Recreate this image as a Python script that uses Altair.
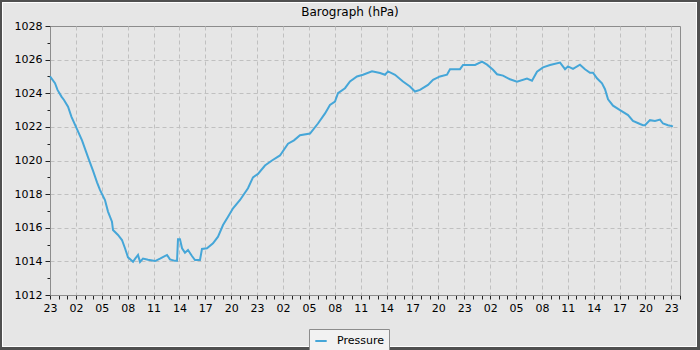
import altair as alt
import pandas as pd

# hours after 23:00 on the first day
hours = [0.0, 0.58, 0.87, 1.33, 1.62, 2.09, 2.49, 3.01, 3.71, 4.40, 4.98, 5.45, 5.79, 6.37,
         6.72, 7.18, 7.30, 7.88, 8.34, 8.69, 9.04, 9.62, 9.85, 10.20, 10.43, 10.78, 11.36,
         12.17, 12.75, 13.56, 13.90, 14.48, 14.72, 14.83, 15.06, 15.30, 15.64, 15.99, 16.45,
         16.80, 17.38, 17.61, 18.19, 18.89, 19.47, 20.05, 20.63, 21.21, 22.02, 22.94, 23.52,
         24.10, 24.91, 25.72, 26.65, 27.58, 28.27, 28.97, 30.13, 31.05, 31.87, 32.44, 33.02,
         33.37, 34.18, 34.76, 35.57, 36.27, 37.31, 38.24, 38.82, 39.17, 39.98, 40.90, 41.71,
         42.29, 42.87, 43.80, 44.38, 45.19, 46.00, 46.35, 47.51, 47.86, 49.25, 50.06, 50.64,
         51.33, 51.80, 52.49, 53.30, 54.11, 55.27, 55.85, 56.43, 57.13, 57.94, 59.10, 59.68,
         60.02, 60.60, 61.41, 61.99, 62.57, 62.92, 63.38, 63.96, 64.31, 64.66, 65.24, 66.05,
         66.98, 67.55, 68.37, 68.71, 68.94, 69.52, 70.10, 70.68, 71.03, 71.61, 72.19]

pressure = [1025.0, 1024.6, 1024.2, 1023.8, 1023.6, 1023.2, 1022.6, 1022.0, 1021.2, 1020.2,
            1019.4, 1018.7, 1018.25, 1017.65, 1016.96, 1016.36, 1015.87, 1015.57, 1015.27,
            1014.78, 1014.24, 1013.98, 1014.15, 1014.38, 1013.97, 1014.17, 1014.1, 1014.02,
            1014.16, 1014.38, 1014.12, 1014.03, 1014.03, 1015.31, 1015.31, 1014.78, 1014.52,
            1014.68, 1014.32, 1014.08, 1014.08, 1014.74, 1014.78, 1015.07, 1015.47, 1016.16,
            1016.66, 1017.16, 1017.65, 1018.35, 1019.0, 1019.2, 1019.7, 1020.0, 1020.3, 1021.0,
            1021.2, 1021.5, 1021.6, 1022.2, 1022.8, 1023.3, 1023.5, 1024.0, 1024.3, 1024.7,
            1025.0, 1025.1, 1025.3, 1025.2, 1025.1, 1025.3, 1025.1, 1024.7, 1024.4, 1024.1,
            1024.2, 1024.5, 1024.8, 1025.0, 1025.1, 1025.43, 1025.43, 1025.68, 1025.68,
            1025.88, 1025.7, 1025.4, 1025.13, 1025.05, 1024.83, 1024.69, 1024.87, 1024.75,
            1025.28, 1025.54, 1025.68, 1025.82, 1025.43, 1025.6, 1025.45, 1025.7, 1025.43,
            1025.22, 1025.22, 1024.89, 1024.59, 1024.24, 1023.64, 1023.26, 1023.0, 1022.7,
            1022.35, 1022.17, 1022.1, 1022.1, 1022.4, 1022.35, 1022.43, 1022.2, 1022.1, 1022.03]

series_name = "Pressure"
title_text = "Barograph (hPa)"
x_ticks = list(range(0, 74))
y_ticks = list(range(1012, 1029))

df = pd.DataFrame({"h": hours, "p": pressure, "s": series_name})

FONT = "DejaVu Sans"
BG = "#e6e6e6"
LINE = "#45a6d8"

x_axis = alt.Axis(
    values=x_ticks, format="d",
    labelExpr="datum.value % 3 === 0 ? ((((23 + datum.value) % 24) < 10 ? '0' : '') + ((23 + datum.value) % 24)) : ''",
    title=None, grid=True, gridColor="#c0c0c0", gridDash=[4, 3],
    gridOpacity={"condition": {"test": "datum.value % 3 === 0 && datum.value > 0", "value": 1}, "value": 0},
    tickSize=4, tickColor="#222", domainColor="#8c8c8c",
    labelFont=FONT, labelFontSize=11, labelColor="#000", labelPadding=3,
    labelFlush=False, labelOverlap=False,
)
y_axis = alt.Axis(
    values=y_ticks, format="d",
    labelExpr="datum.value % 2 === 0 ? datum.label : ''",
    title=None, grid=True, gridColor="#c0c0c0", gridDash=[4, 3],
    gridOpacity={"condition": {"test": "datum.value % 2 === 0 && datum.value > 1012 && datum.value < 1028", "value": 1}, "value": 0},
    tickSize={"condition": {"test": "datum.value % 2 === 0", "value": 5}, "value": 3},
    tickColor="#222", domainColor="#8c8c8c",
    labelFont=FONT, labelFontSize=11, labelColor="#000", labelPadding=3,
    labelFlush=False, labelOverlap=False,
)

line = alt.Chart(df).mark_line(strokeWidth=2, strokeJoin="miter").encode(
    x=alt.X("h:Q", scale=alt.Scale(domain=[0, 73], nice=False, zero=False), axis=x_axis),
    y=alt.Y("p:Q", scale=alt.Scale(domain=[1012, 1028], nice=False, zero=False), axis=y_axis),
    color=alt.Color("s:N", scale=alt.Scale(range=[LINE]), legend=alt.Legend(
        title=None, orient="none", legendX=259, legendY=303,
        symbolType="stroke", symbolSize=130, symbolStrokeWidth=2,
        labelFont=FONT, labelFontSize=11, labelColor="#000", labelOffset=9,
        padding=5, fillColor="#f2f2f2", strokeColor="#8c8c8c",
    )),
)

base1 = alt.Chart(df.head(1))

title = base1.mark_text(font=FONT, fontSize=12, color="#000", align="center",
                        baseline="middle").encode(
    x=alt.value(300), y=alt.value(-14), text=alt.value(title_text))

def rule(x, x2, y, y2, color, w):
    return base1.mark_rule(color=color, strokeWidth=w).encode(
        x=alt.value(x), x2=alt.value(x2), y=alt.value(y), y2=alt.value(y2))

frame = [
    rule(-50, 650, -25, -25, "#505050", 2),
    rule(-49, -49, -26, 324, "#505050", 2),
    rule(648.5, 648.5, -26, 324, "#505050", 3),
    rule(-50, 650, 322.5, 322.5, "#505050", 3),
    rule(-48, 647, -23.5, -23.5, "#ffffff", 1),
    rule(-47.5, -47.5, -24, 321, "#ffffff", 1),
    rule(646.5, 646.5, -24, 321, "#ffffff", 1),
    rule(-48, 647, 320.5, 320.5, "#ffffff", 1),
]

chart = alt.layer(line, title, *frame).properties(
    width=630, height=269,
    autosize=alt.AutoSizeParams(type="none"),
    padding={"left": 50, "top": 26, "right": 20, "bottom": 55},
    background=BG,
).configure_view(stroke="#8c8c8c", strokeWidth=1, fill=BG)

chart.save("out.html", embed_options={"renderer": "svg", "actions": False})
